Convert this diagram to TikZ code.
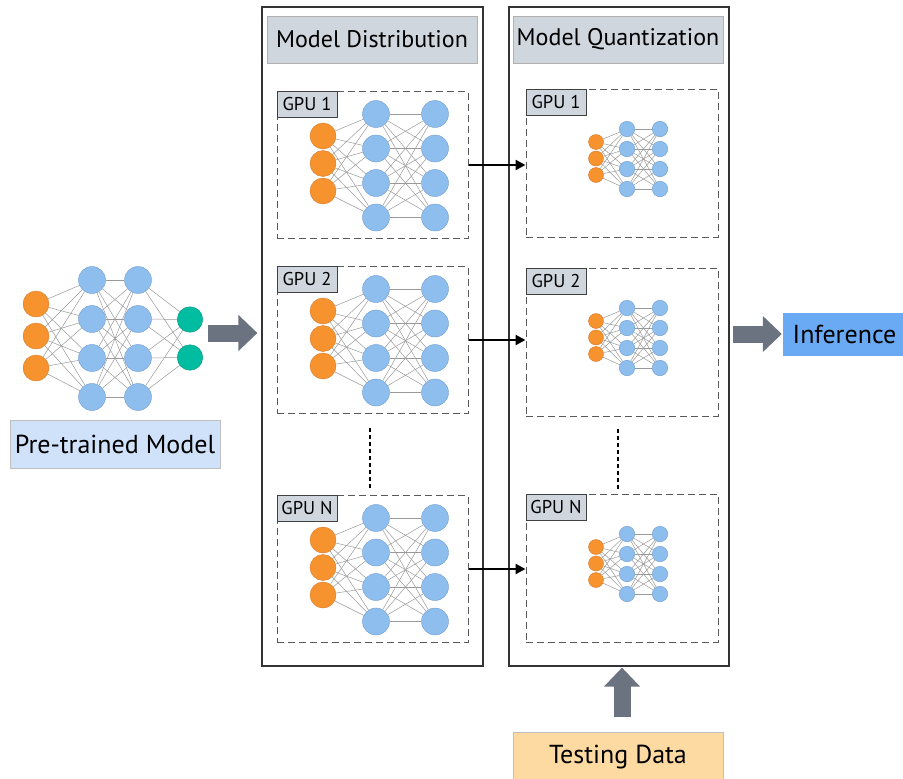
\documentclass[tikz,border=0pt]{standalone}
\usepackage{fontspec}
\setmainfont{PT Sans}
\usetikzlibrary{arrows.meta,positioning}
\pgfdeclarelayer{background}
\pgfsetlayers{background,main}
\definecolor{neuronorange}{RGB}{247,147,47}
\definecolor{orangeedge}{RGB}{214,120,40}
\definecolor{neuronblue}{RGB}{141,190,238}
\definecolor{blueedge}{RGB}{110,155,205}
\definecolor{neurongreen}{RGB}{0,188,160}
\definecolor{greenedge}{RGB}{0,150,125}
\definecolor{titlegray}{RGB}{208,214,222}
\definecolor{pretrainblue}{RGB}{207,226,250}
\definecolor{inferblue}{RGB}{106,170,245}
\definecolor{testorange}{RGB}{253,218,162}
\definecolor{arrowgray}{RGB}{107,114,128}

\begin{document}
\begin{tikzpicture}
        [x=1pt,y=-1pt,
        panel/.style={rectangle,draw=black!80,line width=1.2pt,minimum width=221pt,minimum height=659pt,inner sep=0pt},
        title/.style={rectangle,draw=gray!60,fill=titlegray,minimum width=210pt,minimum height=47pt,inner sep=0pt,font=\fontsize{24}{28}\selectfont},
        gpubox/.style={rectangle,draw=black!65,dash pattern=on 7pt off 4pt,line width=1pt,minimum width=191pt,minimum height=147pt,inner sep=0pt},
        gpulabel/.style={rectangle,draw=black!75,fill=titlegray,line width=1pt,minimum width=60pt,minimum height=26pt,inner sep=0pt,font=\fontsize{18.5}{21}\selectfont},
        tag/.style={rectangle,draw=gray!50,minimum width=210pt,minimum height=48pt,inner sep=0pt,font=\fontsize{26}{30}\selectfont},
        in-big/.style={circle,draw=orangeedge,fill=neuronorange,line width=0.4pt,minimum size=26pt,inner sep=0pt},
        hid-big/.style={circle,draw=blueedge,fill=neuronblue,line width=0.4pt,minimum size=27pt,inner sep=0pt},
        out-big/.style={circle,draw=greenedge,fill=neurongreen,line width=0.4pt,minimum size=25.5pt,inner sep=0pt},
        in-small/.style={circle,draw=orangeedge,fill=neuronorange,line width=0.4pt,minimum size=15pt,inner sep=0pt},
        hid-small/.style={circle,draw=blueedge,fill=neuronblue,line width=0.4pt,minimum size=15.5pt,inner sep=0pt},
        edge/.style={draw=gray!80,line width=0.5pt},
        gpuarrow/.style={draw=black,line width=2.2pt,-{Triangle[length=10pt,width=10pt]}},
        bigarrow/.style={draw=arrowgray,line width=17pt,-{Triangle[length=19pt,width=35pt]}},
        dotline/.style={draw=black,line width=2.2pt,dash pattern=on 4pt off 3pt},
        ]
        \useasboundingbox (0,0) rectangle (903,779);

        % pre-trained model
        \foreach \i in {1,2,3} \node[in-big] (pre-in-\i) at (36, 272+32*\i) {};
        \foreach \j in {1,...,4} \node[hid-big] (pre-h1-\j) at (92, 241+39*\j) {};
        \foreach \j in {1,...,4} \node[hid-big] (pre-h2-\j) at (138, 241+39*\j) {};
        \node[out-big] (pre-out-1) at (190, 319.5) {};
        \node[out-big] (pre-out-2) at (190, 357.5) {};
        \begin{pgfonlayer}{background}
            \foreach \i in {1,2,3} \foreach \j in {1,...,4} \draw[edge] (pre-in-\i) -- (pre-h1-\j);
            \foreach \i in {1,...,4} \foreach \j in {1,...,4} \draw[edge] (pre-h1-\i) -- (pre-h2-\j);
            \foreach \i in {1,...,4} \foreach \j in {1,2} \draw[edge] (pre-h2-\i) -- (pre-out-\j);
        \end{pgfonlayer}
        \node[tag,fill=pretrainblue] (pretrained) at (115, 444) {Pre-trained Model};

        % model distribution
        \node[panel] (dist) at (372.5, 336.5) {};
        \node[title] (dist-title) at (372, 39.5) {Model Distribution};
        \foreach \g/\top/\lbl in {1/92/1, 2/267/2, 3/496/N} {
            \node[gpubox] (dist-\g) at (372.5, \top+73) {};
            \node[gpulabel,anchor=north west] (dist-label-\g) at (dist-\g.north west) {GPU \lbl};
            \foreach \i in {1,2,3} \node[in-big] (dist-\g-in-\i) at (323, \top+16.5+27.5*\i) {};
            \foreach \j in {1,...,4} \node[hid-big] (dist-\g-h1-\j) at (376, \top-12.5+34.5*\j) {};
            \foreach \j in {1,...,4} \node[hid-big] (dist-\g-h2-\j) at (435, \top-12.5+34.5*\j) {};
            \begin{pgfonlayer}{background}
                \foreach \i in {1,2,3} \foreach \j in {1,...,4} \draw[edge] (dist-\g-in-\i) -- (dist-\g-h1-\j);
                \foreach \i in {1,...,4} \foreach \j in {1,...,4} \draw[edge] (dist-\g-h1-\i) -- (dist-\g-h2-\j);
            \end{pgfonlayer}
        }

        % model quantization
        \node[panel,minimum width=220pt] (quant) at (619, 336.5) {};
        \node[title] (quant-title) at (618, 39.5) {Model Quantization};
        \foreach \g/\top/\lbl in {1/89/1, 2/268/2, 3/494/N} {
            \node[gpubox,minimum width=192pt,minimum height=148pt] (quant-\g) at (622, \top+74) {};
            \node[gpulabel,anchor=north west] (quant-label-\g) at (quant-\g.north west) {GPU \lbl};
            \foreach \i in {1,2,3} \node[in-small] (quant-\g-in-\i) at (596, \top+36.5+16.5*\i) {};
            \foreach \j in {1,...,4} \node[hid-small] (quant-\g-h1-\j) at (627, \top+20+20*\j) {};
            \foreach \j in {1,...,4} \node[hid-small] (quant-\g-h2-\j) at (660, \top+20+20*\j) {};
            \begin{pgfonlayer}{background}
                \foreach \i in {1,2,3} \foreach \j in {1,...,4} \draw[edge] (quant-\g-in-\i) -- (quant-\g-h1-\j);
                \foreach \i in {1,...,4} \foreach \j in {1,...,4} \draw[edge] (quant-\g-h1-\i) -- (quant-\g-h2-\j);
            \end{pgfonlayer}
        }

        % outputs
        \node[tag,fill=inferblue,draw=inferblue,minimum width=123pt,minimum height=42pt] (infer) at (844.5, 334) {Inference};
        \node[tag,fill=testorange,minimum height=50pt] (test) at (618, 757) {Testing Data};

        % connectors
        \coordinate (pre-arrow) at (208, 333);
        \draw[bigarrow] (pre-arrow) -- ([xshift=-4pt]pre-arrow -| dist.west);
        \foreach \g in {1,2,3} \draw[gpuarrow] (dist-\g.east) -- (dist-\g.east -| quant-\g.west);
        \draw[dotline] ([xshift=-2.5pt,yshift=-14pt]dist-2.south) -- ([xshift=-2.5pt,yshift=6pt]dist-3.north);
        \draw[dotline] ([xshift=-4pt,yshift=-12pt]quant-2.south) -- ([xshift=-4pt,yshift=4pt]quant-3.north);
        \draw[bigarrow] ([xshift=3pt]quant.east |- infer.west) -- ([xshift=-1pt]infer.west);
        \draw[bigarrow] ([xshift=4pt,yshift=15pt]test.north) -- ([xshift=4pt,yshift=-1pt]test.north |- quant.south);
    \end{tikzpicture}
\end{document}
